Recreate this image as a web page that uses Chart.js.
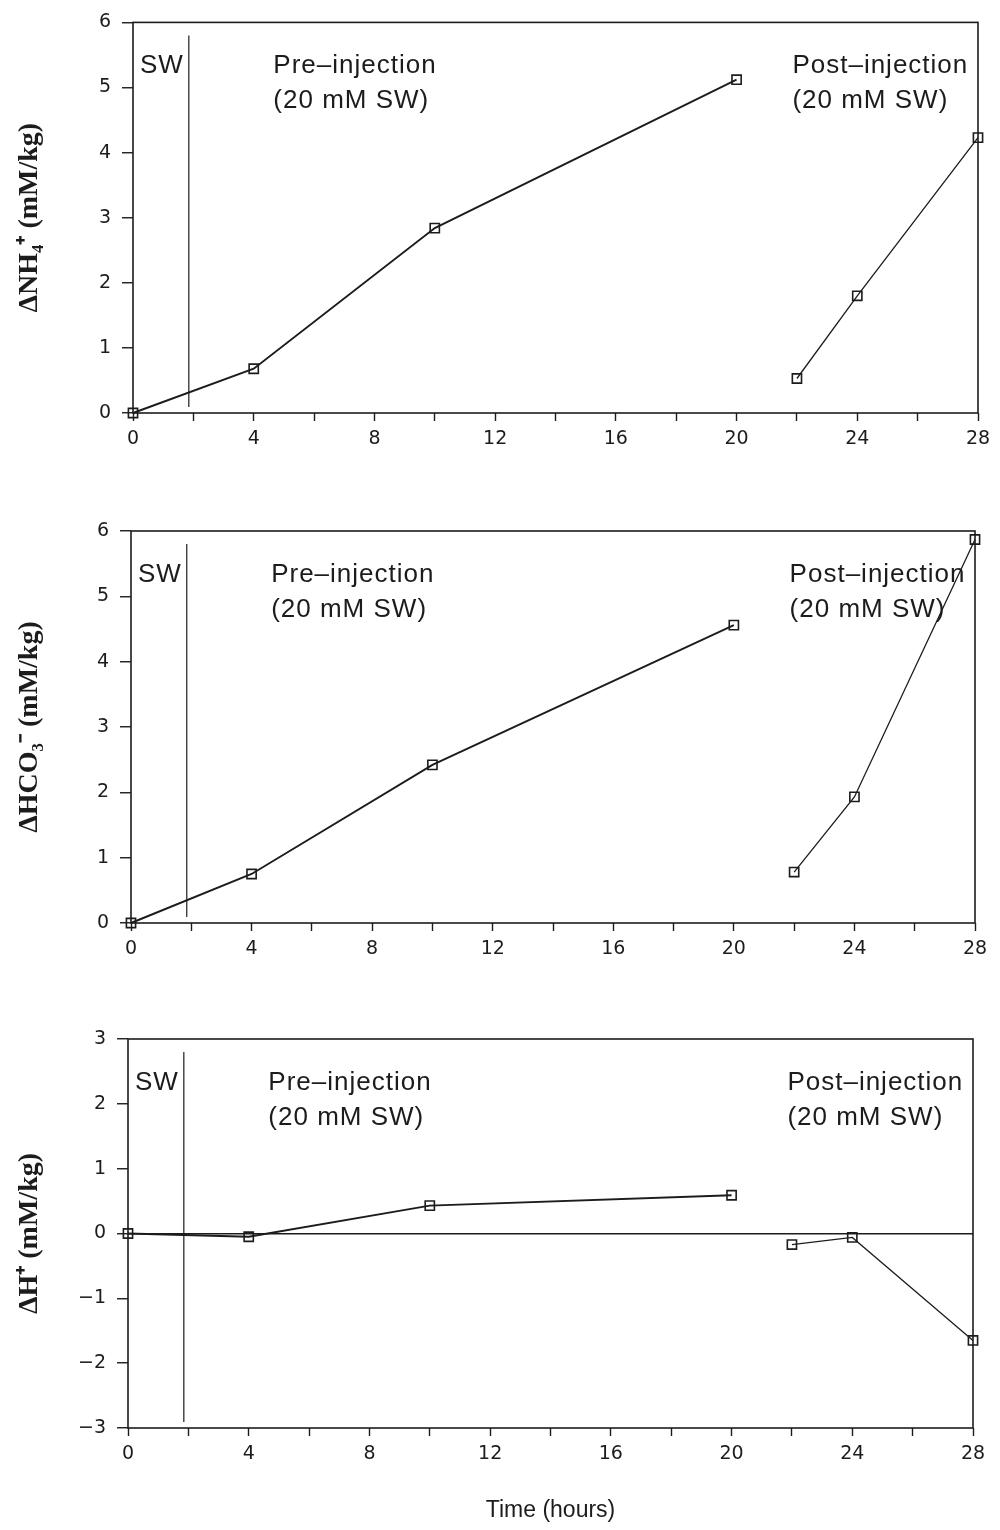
<!DOCTYPE html>
<html lang="en">
<head>
  <meta charset="UTF-8">
  <title>Change in NH4+, HCO3- and H+ vs time</title>
  <script src="https://cdn.jsdelivr.net/npm/chart.js"></script>
  <style>
    body {
      margin: 0;
      padding: 0;
      background: #fff;
      width: 1000px;
      height: 1530px;
      position: relative;
      overflow: hidden;
    }
    .panel {
      position: absolute;
      left: 0;
      width: 1000px;
    }
  </style>
</head>
<body>
  <div class="panel" style="top:0;height:470px"><canvas id="nh4Chart"></canvas></div>
  <div class="panel" style="top:470px;height:520px"><canvas id="hco3Chart"></canvas></div>
  <div class="panel" style="top:980px;height:550px"><canvas id="hChart"></canvas></div>

  <script>
    // time in hours
    const preHours = [0, 4, 10, 20];
    const postHours = [22, 24, 28];
    const swTime = 1.85;

    // change in concentration, mM/kg
    const nh4Pre = [0, 0.68, 2.84, 5.12];
    const nh4Post = [0.53, 1.8, 4.23];
    const hco3Pre = [0, 0.75, 2.42, 4.56];
    const hco3Post = [0.78, 1.93, 5.87];
    const hPre = [0, -0.05, 0.43, 0.59];
    const hPost = [-0.17, -0.06, -1.65];

    const swLabel = 'SW';
    const preLabel = ['Pre\u2013injection', '(20 mM SW)'];
    const postLabel = ['Post\u2013injection', '(20 mM SW)'];

    const ink = '#1c1c1c';

    function pts(xs, ys) {
      return xs.map((x, i) => ({ x: x, y: ys[i] }));
    }

    // frame, SW line and the text notes
    const decorations = {
      id: 'decorations',
      afterDraw(chart) {
        const { ctx, chartArea: a, scales: { x } } = chart;
        ctx.save();
        ctx.strokeStyle = ink;
        ctx.lineWidth = 1.6;
        ctx.strokeRect(a.left, a.top, a.right - a.left, a.bottom - a.top);

        const sx = x.getPixelForValue(swTime);
        ctx.lineWidth = 1.2;
        ctx.beginPath();
        ctx.moveTo(sx, a.top + 13);
        ctx.lineTo(sx, a.bottom - 6);
        ctx.stroke();

        ctx.fillStyle = ink;
        ctx.font = '26px "Liberation Sans", Arial, sans-serif';
        ctx.letterSpacing = '1px';
        ctx.textBaseline = 'alphabetic';
        ctx.textAlign = 'left';
        ctx.fillText(swLabel, a.left + 7, a.top + 51);
        const px = x.getPixelForValue(4.65);
        const qx = x.getPixelForValue(21.85);
        preLabel.forEach((t, i) => ctx.fillText(t, px, a.top + 51 + i * 35));
        postLabel.forEach((t, i) => ctx.fillText(t, qx, a.top + 51 + i * 35));
        ctx.restore();
      }
    };

    function makePanel(id, opts) {
      const ctx = document.getElementById(id).getContext('2d');
      return new Chart(ctx, {
        type: 'line',
        data: {
          datasets: [{
            data: pts(preHours, opts.pre),
            borderColor: ink,
            borderWidth: 1.9,
            pointStyle: 'rect',
            pointRadius: 6.5,
            pointBorderWidth: 1.6,
            pointBorderColor: ink,
            pointBackgroundColor: 'rgba(0,0,0,0)',
            tension: 0,
            clip: false
          }, {
            data: pts(postHours, opts.post),
            borderColor: ink,
            borderWidth: 1.3,
            pointStyle: 'rect',
            pointRadius: 6.5,
            pointBorderWidth: 1.6,
            pointBorderColor: ink,
            pointBackgroundColor: 'rgba(0,0,0,0)',
            tension: 0,
            clip: false
          }]
        },
        options: {
          responsive: true,
          maintainAspectRatio: false,
          animation: false,
          layout: {
            padding: { top: opts.top, right: opts.right, left: 0, bottom: 0 }
          },
          scales: {
            x: {
              type: 'linear',
              min: 0,
              max: 28,
              afterFit: s => { s.height = opts.xh; },
              border: { display: false },
              grid: {
                drawOnChartArea: false,
                tickLength: 8,
                tickColor: ink,
                tickWidth: 1.4
              },
              ticks: {
                stepSize: 2,
                autoSkip: false,
                maxRotation: 0,
                padding: 7,
                color: ink,
                font: { family: '"DejaVu Sans", sans-serif', size: 19 },
                callback: v => (v % 4 === 0 ? v : '')
              },
              title: {
                display: !!opts.xTitle,
                text: opts.xTitle || '',
                color: ink,
                font: { family: '"Liberation Sans", Arial, sans-serif', size: 23 },
                padding: { top: 0, bottom: 6 }
              }
            },
            y: {
              min: opts.min,
              max: opts.max,
              afterFit: s => { s.width = opts.left; },
              border: { display: false },
              grid: {
                drawOnChartArea: !!opts.zeroLine,
                color: c => (opts.zeroLine && c.tick && c.tick.value === 0 ? ink : 'rgba(0,0,0,0)'),
                lineWidth: 1.5,
                tickLength: 11,
                tickColor: ink,
                tickWidth: 1.4
              },
              ticks: {
                stepSize: 1,
                padding: 11,
                color: ink,
                font: { family: '"DejaVu Sans", sans-serif', size: 19 },
                callback: v => (v < 0 ? '\u2212' + Math.abs(v) : v)
              },
              title: {
                display: true,
                text: opts.yTitle,
                color: ink,
                font: { family: '"Liberation Serif", "Times New Roman", serif', size: 28, weight: 'bold' },
                padding: { top: 13, bottom: 0 }
              }
            }
          },
          plugins: {
            legend: { display: false },
            tooltip: { enabled: false }
          }
        },
        plugins: [decorations]
      });
    }

    makePanel('nh4Chart', {
      pre: nh4Pre, post: nh4Post, min: 0, max: 6,
      yTitle: '\u0394NH\u2084\u207A (mM/kg)',
      top: 17, right: 22, left: 133, xh: 57
    });

    makePanel('hco3Chart', {
      pre: hco3Pre, post: hco3Post, min: 0, max: 6,
      yTitle: '\u0394HCO\u2083\u207B (mM/kg)',
      top: 61, right: 25, left: 131, xh: 67
    });

    makePanel('hChart', {
      pre: hPre, post: hPost, min: -3, max: 3,
      yTitle: '\u0394H\u207A (mM/kg)',
      top: 59, right: 27, left: 128, xh: 102,
      zeroLine: true,
      xTitle: 'Time (hours)'
    });
  </script>
</body>
</html>
